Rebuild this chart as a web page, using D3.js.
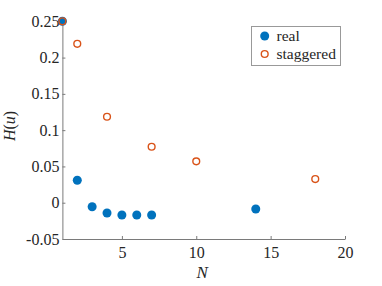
<!DOCTYPE html>
<html>
<head>
<meta charset="utf-8">
<script src="https://cdn.jsdelivr.net/npm/d3@7"></script>
<style>
  body { margin: 0; background: #fff; }
  svg text { font-family: 'Liberation Serif', serif; }
</style>
</head>
<body>
<svg></svg>
<script>
let realN = [1, 2, 3, 4, 5, 6, 7, 14];
let realH = [0.25, 0.031, -0.0055, -0.0142, -0.017, -0.017, -0.017, -0.0087];
let stagN = [1, 2, 4, 7, 10, 18];
let stagH = [0.25, 0.219, 0.1185, 0.0771, 0.057, 0.0326];
let xTicks = [5, 10, 15, 20];
let yTicks = [-0.05, 0, 0.05, 0.1, 0.15, 0.2, 0.25];
let yTickLabels = ['-0.05', '0', '0.05', '0.1', '0.15', '0.2', '0.25'];
let legendNames = ['real', 'staggered'];

let width = 382;
let height = 286;
let margin = { left: 62.4, right: 37, top: 21.3, bottom: 47 };

let svg = d3.select('svg')
    .attr('width', width)
    .attr('height', height);

let x = d3.scaleLinear().domain([1, 20]).range([margin.left, width - margin.right]);
let y = d3.scaleLinear().domain([-0.05, 0.25]).range([height - margin.bottom, margin.top]);

let axisColor = '#7a7a7a';
let textColor = '#262626';

let xAxis = svg.append('g')
    .attr('transform', `translate(0, ${y(-0.05)})`)
    .call(d3.axisBottom(x).tickValues(xTicks).tickSizeInner(-3).tickSizeOuter(0).tickPadding(8));

let yAxis = svg.append('g')
    .attr('transform', `translate(${x(1)}, 0)`)
    .call(d3.axisLeft(y).tickValues(yTicks).tickFormat((d, i) => yTickLabels[i])
        .tickSizeInner(-3).tickSizeOuter(0).tickPadding(3));

[xAxis, yAxis].forEach(a => {
    a.attr('font-family', null);
    a.select('.domain').attr('stroke', axisColor);
    a.selectAll('.tick line').attr('stroke', axisColor);
    a.selectAll('.tick text')
        .attr('fill', textColor)
        .attr('font-size', 16);
});

// axis labels
svg.append('text')
    .attr('x', x(10.4))
    .attr('y', 278)
    .attr('text-anchor', 'middle')
    .attr('font-size', 17)
    .attr('font-style', 'italic')
    .attr('fill', textColor)
    .text('N');

let yl = svg.append('text')
    .attr('transform', `translate(15, ${126}) rotate(-90)`)
    .attr('text-anchor', 'middle')
    .attr('font-size', 16)
    .attr('fill', textColor);
yl.append('tspan').attr('font-style', 'italic').text('H');
yl.append('tspan').text('(');
yl.append('tspan').attr('font-style', 'italic').text('u');
yl.append('tspan').text(')');

let blue = '#0072BD';
let orange = '#D95319';

let real = realN.map((n, i) => ({ n: n, h: realH[i] }));
let stag = stagN.map((n, i) => ({ n: n, h: stagH[i] }));

svg.selectAll('.real')
    .data(real)
    .enter()
    .append('circle')
    .attr('class', 'real')
    .attr('cx', d => x(d.n))
    .attr('cy', d => y(d.h))
    .attr('r', 4.5)
    .attr('fill', blue);

svg.selectAll('.stag')
    .data(stag)
    .enter()
    .append('circle')
    .attr('class', 'stag')
    .attr('cx', d => x(d.n))
    .attr('cy', d => y(d.h))
    .attr('r', 3.4)
    .attr('fill', 'none')
    .attr('stroke', orange)
    .attr('stroke-width', 1.4);

// legend
let lg = svg.append('g');
lg.append('rect')
    .attr('x', 251.5)
    .attr('y', 26.5)
    .attr('width', 89)
    .attr('height', 39)
    .attr('fill', '#fff')
    .attr('stroke', '#999')
    .attr('stroke-width', 1);

let items = lg.selectAll('.item')
    .data(legendNames)
    .enter()
    .append('g')
    .attr('class', 'item')
    .attr('transform', (d, i) => `translate(0, ${36 + i * 18})`);

items.append('circle')
    .attr('cx', 264.7)
    .attr('cy', 0)
    .attr('r', (d, i) => i === 0 ? 4.5 : 3.4)
    .attr('fill', (d, i) => i === 0 ? blue : 'none')
    .attr('stroke', (d, i) => i === 0 ? 'none' : orange)
    .attr('stroke-width', 1.4);

items.append('text')
    .attr('x', 276.5)
    .attr('y', 5)
    .attr('font-size', 15.5)
    .attr('fill', textColor)
    .text(d => d);
</script>
</body>
</html>
